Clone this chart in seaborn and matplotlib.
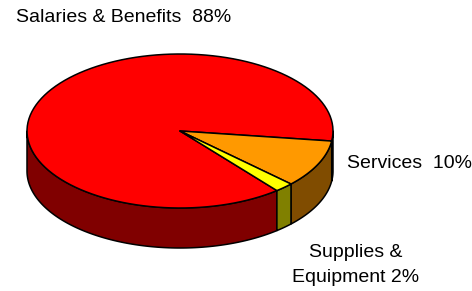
import numpy as np
import matplotlib
matplotlib.use("Agg")
import matplotlib.pyplot as plt
from matplotlib.patches import Polygon
import seaborn as sns

# ---- data ----
categories = ["Salaries & Benefits", "Services", "Supplies &\nEquipment"]
values = [88, 10, 2]
top_colors = ["#FF0000", "#FF9900", "#FFFF00"]
side_colors = ["#800000", "#804C00", "#808000"]

sns.set_theme(style="white")
plt.rcParams['font.family'] = ['Liberation Sans', 'DejaVu Sans']

fig = plt.figure(figsize=(4.72, 2.91), dpi=100)
ax = fig.add_axes([0, 0, 1, 1])
ax.set_xlim(0, 472)
ax.set_ylim(291, 0)
ax.axis('off')

# layout of the 3D pie (screen pixels, y down)
cx, cy, a, b, depth = 180, 131, 153, 77, 40
start_angle = 50.7  # degrees, increasing = clockwise on screen

vals = np.array(values, dtype=float)
spans = vals / vals.sum() * 360.0
edges = start_angle + np.concatenate([[0], np.cumsum(spans)])


def arc(t0, t1, n=120):
    t = np.radians(np.linspace(t0, t1, n))
    return np.column_stack([cx + a * np.cos(t), cy + b * np.sin(t)])


# side walls (front half only: 0..180 deg on screen)
for i in range(len(vals)):
    t0, t1 = edges[i], edges[i + 1]
    for k in (-1, 0, 1, 2):
        lo = max(t0, 360 * k)
        hi = min(t1, 360 * k + 180)
        if hi > lo:
            top = arc(lo, hi)
            bot = top[::-1] + np.array([0, depth])
            poly = Polygon(np.vstack([top, bot]), closed=True,
                           facecolor=side_colors[i], edgecolor="black",
                           linewidth=1.1, joinstyle="round")
            ax.add_patch(poly)

# top faces
for i in range(len(vals)):
    pts = np.vstack([[cx, cy], arc(edges[i], edges[i + 1])])
    poly = Polygon(pts, closed=True, facecolor=top_colors[i],
                   edgecolor="black", linewidth=1.1, joinstyle="round")
    ax.add_patch(poly)

# labels
fs = 14
ax.text(16, 18, f"{categories[0]}  {values[0]}%", ha="left", va="center",
        fontsize=fs, color="black")
ax.text(347, 163, f"{categories[1]}  {values[1]}%", ha="left", va="center",
        fontsize=fs, color="black")
ax.text(356, 265, f"{categories[2]} {values[2]}%", ha="center", va="center",
        fontsize=fs, color="black", linespacing=1.55)

fig.savefig("out.png", dpi=100)
